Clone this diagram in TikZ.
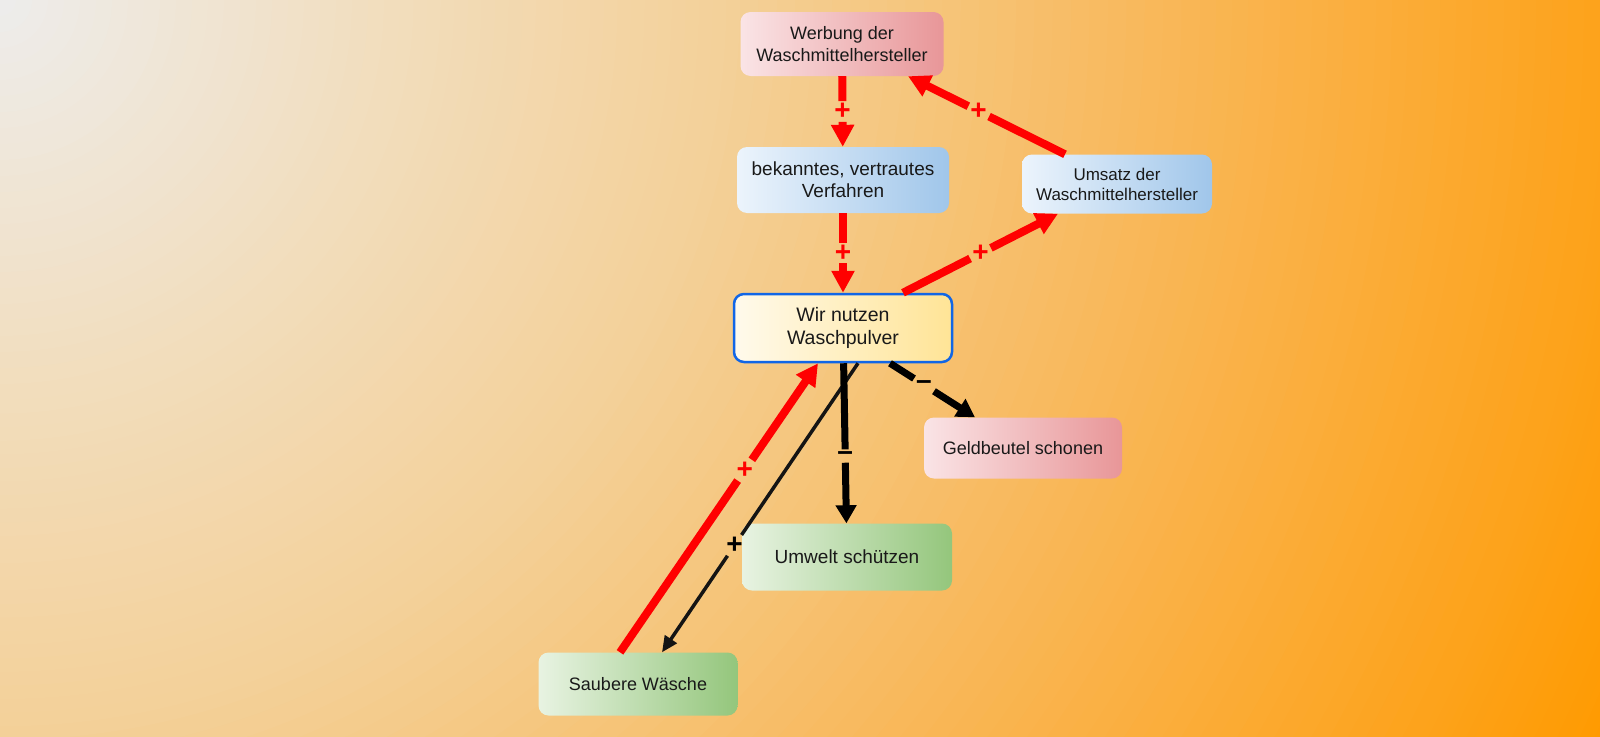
\documentclass[tikz,border=0pt]{standalone}
\usepackage{fontspec}
\setmainfont{Liberation Sans}
\usetikzlibrary{arrows.meta}

\definecolor{bgA}{RGB}{237,237,237}
\definecolor{bgB}{RGB}{242,221,188}
\definecolor{bgC}{RGB}{243,208,152}
\definecolor{bgD}{RGB}{249,182,85}
\definecolor{bgE}{RGB}{253,163,28}
\definecolor{bgF}{RGB}{255,154,0}
\definecolor{pinkL}{RGB}{250,228,230}
\definecolor{pinkR}{RGB}{232,150,152}
\definecolor{blueL}{RGB}{236,244,252}
\definecolor{blueR}{RGB}{160,198,234}
\definecolor{greenL}{RGB}{232,243,226}
\definecolor{greenR}{RGB}{148,198,124}
\definecolor{wirL}{RGB}{255,250,236}
\definecolor{wirR}{RGB}{255,228,150}
\definecolor{wirblue}{RGB}{17,102,230}
\definecolor{txt}{RGB}{25,25,25}
\definecolor{linkred}{RGB}{255,0,0}

\tikzset{
  concept/.style={rounded corners=10pt, align=center, text=txt, inner sep=0pt,
    font=\fontsize{18}{22}\selectfont},
  rednode/.style={concept, left color=pinkL, right color=pinkR},
  bluenode/.style={concept, left color=blueL, right color=blueR},
  greennode/.style={concept, left color=greenL, right color=greenR},
  focus/.style={concept, left color=wirL, right color=wirR, draw=wirblue, line width=2.5pt},
  sign/.style={inner sep=2pt, font=\fontsize{28}{28}\selectfont\bfseries},
  redlink/.style={draw=linkred, line width=8pt},
  blacklink/.style={draw=black, line width=7pt},
  thinlink/.style={draw=black!92, line width=3.5pt},
  redtip/.style={-{Triangle[length=22pt,width=22pt]}},
  blacktip/.style={-{Triangle[length=18pt,width=20pt]}},
  thintip/.style={-{Triangle[length=16pt,width=14pt]}}
}

\begin{document}
\begin{tikzpicture}[x=1pt, y=-1pt]
    \useasboundingbox (0,0) rectangle (1600,736);
    % background glow from the top left corner
    \begin{scope}
      \clip (0,0) rectangle (1600,736);
      \foreach \ca/\cb/\ra/\rb in {bgF/bgE/1770/1600, bgE/bgD/1600/1200, bgD/bgC/1200/740, bgC/bgB/740/400, bgB/bgA/400/0}
        \foreach \t in {0,4,...,96}
          \fill[\cb!\t!\ca] (0,0) circle[radius={\ra-(\ra-\rb)/100*\t}];
    \end{scope}
    % concepts
    \node[rednode, minimum width=203pt, minimum height=64pt] (werbung) at (842,44) {Werbung der\\Waschmittelhersteller};
    \node[bluenode, font=\fontsize{19}{22}\selectfont, minimum width=212pt, minimum height=66pt] (verfahren) at (843,180) {bekanntes, vertrautes\\Verfahren};
    \node[bluenode, font=\fontsize{17}{20}\selectfont, minimum width=190pt, minimum height=59pt] (umsatz) at (1117,184) {Umsatz der\\Waschmittelhersteller};
    \node[focus, font=\fontsize{19.5}{23}\selectfont, minimum width=218pt, minimum height=68pt] (pulver) at (843,328) {Wir nutzen\\Waschpulver};
    \node[rednode, minimum width=198pt, minimum height=61pt] (geld) at (1023,448) {Geldbeutel schonen};
    \node[greennode, font=\fontsize{19}{22}\selectfont, minimum width=210pt, minimum height=67pt] (umwelt) at (847,557) {Umwelt schützen};
    \node[greennode, minimum width=199pt, minimum height=63pt] (waesche) at (638,684) {Saubere Wäsche};
    % end points off the centre lines
    \coordinate (pu) at ([xshift=60pt]pulver.north);
    \coordinate (up) at ([xshift=-59pt]umsatz.south);
    \coordinate (uw) at ([xshift=-52pt]umsatz.north);
    \coordinate (wu) at ([xshift=66pt]werbung.south);
    \coordinate (sp) at ([xshift=-18pt]waesche.north);
    \coordinate (ps) at ([xshift=-25pt]pulver.south);
    \coordinate (pw) at ([xshift=15pt]pulver.south);
    \coordinate (wp) at ([xshift=24pt]waesche.north);
    \coordinate (pg) at ([xshift=47pt]pulver.south);
    \coordinate (gp) at ([xshift=-48pt]geld.north);
    % Werbung -> Verfahren
    \path (werbung) -- node[sign, text=linkred] (s1) {+} (verfahren);
    \draw[redlink] (werbung) -- (s1);
    \draw[redlink, redtip] (s1) -- (verfahren);
    % Verfahren -> Waschpulver
    \path (verfahren) -- node[sign, text=linkred] (s2) {+} (pulver);
    \draw[redlink] (verfahren) -- (s2);
    \draw[redlink, redtip] (s2) -- (pulver);
    % Waschpulver -> Umsatz -> Werbung
    \path (pu) -- node[sign, text=linkred] (s3) {+} (up);
    \draw[redlink] (pu) -- (s3);
    \draw[redlink, redtip] (s3) -- (up);
    \path (uw) -- node[sign, text=linkred, pos=0.55] (s4) {+} (wu);
    \draw[redlink] (uw) -- (s4);
    \draw[redlink, redtip] (s4) -- (wu);
    % saubere Waesche <-> Waschpulver
    \path (sp) -- node[sign, text=linkred, pos=0.63] (s5) {+} (ps);
    \draw[redlink] (sp) -- (s5);
    \draw[redlink, redtip] (s5) -- (ps);
    \path (pw) -- node[sign, pos=0.63] (s6) {+} (wp);
    \draw[thinlink] (pw) -- (s6);
    \draw[thinlink, thintip] (s6) -- (wp);
    % negative links
    \path (pulver) -- node[sign, pos=0.58] (s7) {–} (umwelt);
    \draw[blacklink] (pulver) -- (s7);
    \draw[blacklink, blacktip] (s7) -- (umwelt);
    \path (pg) -- node[sign, pos=0.4] (s8) {–} (gp);
    \draw[blacklink] (pg) -- (s8);
    \draw[blacklink, blacktip] (s8) -- (gp);
  \end{tikzpicture}
\end{document}
